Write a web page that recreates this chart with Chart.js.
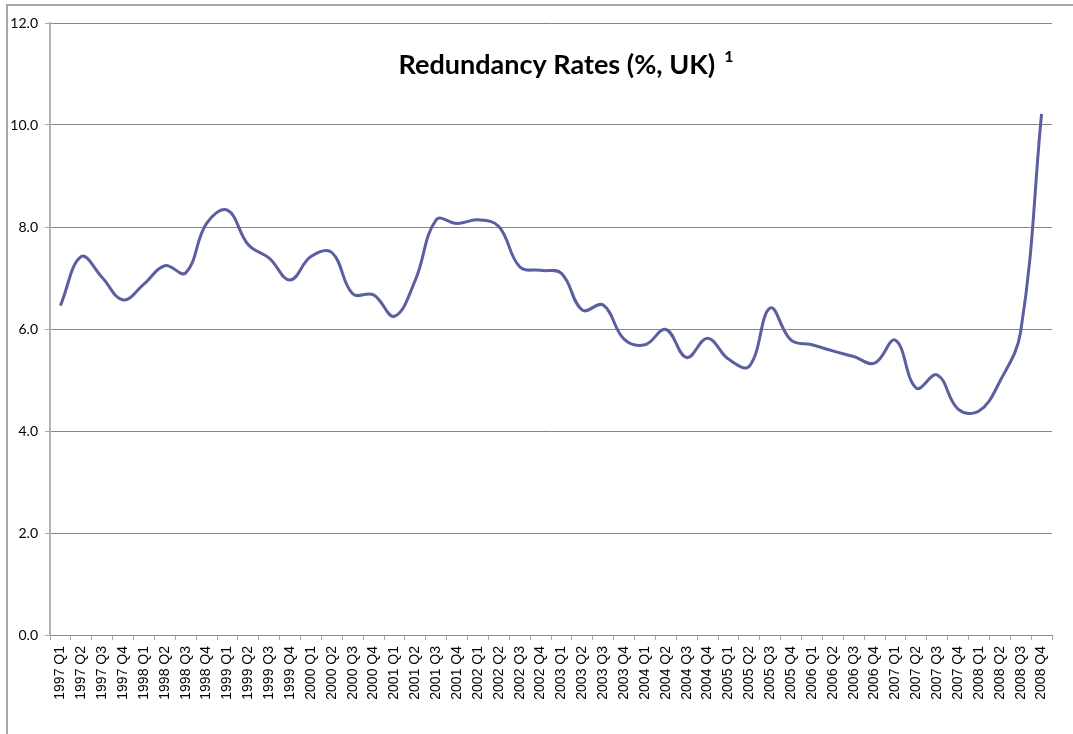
<!DOCTYPE html>
<html>
<head>
<meta charset="utf-8">
<script src="https://cdn.jsdelivr.net/npm/chart.js@4.4.1/dist/chart.umd.min.js"></script>
<style>
  html, body { margin: 0; padding: 0; background: #fff; }
  #wrap { width: 1073px; height: 734px; }
</style>
</head>
<body>
<div id="wrap"><canvas id="ctx" width="1073" height="734"></canvas></div>
<script>
const quarters = [
    '1997 Q1', '1997 Q2', '1997 Q3', '1997 Q4',
    '1998 Q1', '1998 Q2', '1998 Q3', '1998 Q4',
    '1999 Q1', '1999 Q2', '1999 Q3', '1999 Q4',
    '2000 Q1', '2000 Q2', '2000 Q3', '2000 Q4',
    '2001 Q1', '2001 Q2', '2001 Q3', '2001 Q4',
    '2002 Q1', '2002 Q2', '2002 Q3', '2002 Q4',
    '2003 Q1', '2003 Q2', '2003 Q3', '2003 Q4',
    '2004 Q1', '2004 Q2', '2004 Q3', '2004 Q4',
    '2005 Q1', '2005 Q2', '2005 Q3', '2005 Q4',
    '2006 Q1', '2006 Q2', '2006 Q3', '2006 Q4',
    '2007 Q1', '2007 Q2', '2007 Q3', '2007 Q4',
    '2008 Q1', '2008 Q2', '2008 Q3', '2008 Q4'
];

const redundancyRate = [
    6.46, 7.42, 7.01, 6.57,
    6.88, 7.24, 7.10, 8.07,
    8.33, 7.65, 7.39, 6.96,
    7.42, 7.50, 6.69, 6.67,
    6.25, 6.96, 8.14, 8.07,
    8.14, 8.01, 7.22, 7.15,
    7.09, 6.37, 6.47, 5.80,
    5.69, 5.99, 5.44, 5.82,
    5.41, 5.27, 6.41, 5.78,
    5.69, 5.57, 5.46, 5.33,
    5.78, 4.84, 5.10, 4.43,
    4.39, 4.97, 5.95, 10.22
];

const yTicks = [0, 2, 4, 6, 8, 10, 12];

const chartTitle = 'Redundancy Rates (%, UK)';
const titleNote = '1';

// frame round the chart area, as in the spreadsheet picture
const framePlugin = {
    id: 'frame',
    beforeDraw(chart) {
        const c = chart.ctx;
        c.save();
        c.fillStyle = '#fff';
        c.fillRect(0, 0, chart.width, chart.height);
        c.strokeStyle = '#a6a6a6';
        c.lineWidth = 2;
        c.beginPath();
        c.moveTo(7, chart.height);
        c.lineTo(7, 5);
        c.lineTo(chart.width, 5);
        c.stroke();
        c.restore();
    }
};

// title sits inside the plot, so draw it by hand
const titlePlugin = {
    id: 'insideTitle',
    afterDraw(chart) {
        const c = chart.ctx;
        c.save();
        c.fillStyle = '#000';
        c.textBaseline = 'alphabetic';
        c.font = 'bold 27px Lato';
        const w = c.measureText(chartTitle).width;
        c.font = 'bold 16px Lato';
        const w2 = c.measureText(titleNote).width;
        const total = w + 9 + w2;
        const x0 = 566 - total / 2;
        c.font = 'bold 27px Lato';
        c.fillText(chartTitle, x0, 74);
        c.font = 'bold 16px Lato';
        c.fillText(titleNote, x0 + w + 9, 62);
        c.restore();
    }
};

const config = {
    type: 'line',
    data: {
        labels: quarters,
        datasets: [
            {
                label: 'Redundancy rate',
                data: redundancyRate,
                borderColor: '#5b5e9f',
                borderWidth: 3,
                pointRadius: 0,
                tension: 0.4,
                fill: false,
            }
        ]
    },
    options: {
        responsive: false,
        animation: false,
        layout: {
            padding: { left: 0, right: 21, top: 23, bottom: 0 }
        },
        plugins: {
            legend: { display: false },
            title: { display: false },
            tooltip: { enabled: false },
        },
        scales: {
            x: {
                offset: true,
                grid: {
                    offset: true,
                    drawOnChartArea: false,
                    drawTicks: true,
                    tickLength: 5,
                    tickColor: '#a6a6a6',
                },
                border: { color: '#8c8c8c', width: 1 },
                ticks: {
                    autoSkip: false,
                    minRotation: 90,
                    maxRotation: 90,
                    padding: 6,
                    color: '#000',
                    font: { family: 'Liberation Sans', size: 14 },
                },
                afterFit(scale) { scale.height = 99; }
            },
            y: {
                min: 0,
                max: 12,
                afterBuildTicks(scale) {
                    scale.ticks = yTicks.map(v => ({ value: v }));
                },
                grid: {
                    color: '#868686',
                    lineWidth: 1,
                    tickLength: 5,
                    tickColor: '#a6a6a6',
                },
                border: { color: '#b3b3b3', width: 2 },
                ticks: {
                    padding: 7,
                    color: '#000',
                    font: { family: 'Lato', size: 14 },
                    callback: function(value) {
                        return value.toFixed(1);
                    }
                },
                afterFit(scale) { scale.width = 50; }
            }
        }
    },
    plugins: [framePlugin, titlePlugin]
};

const graphChart = new Chart(document.getElementById('ctx').getContext('2d'), config);
</script>
</body>
</html>
